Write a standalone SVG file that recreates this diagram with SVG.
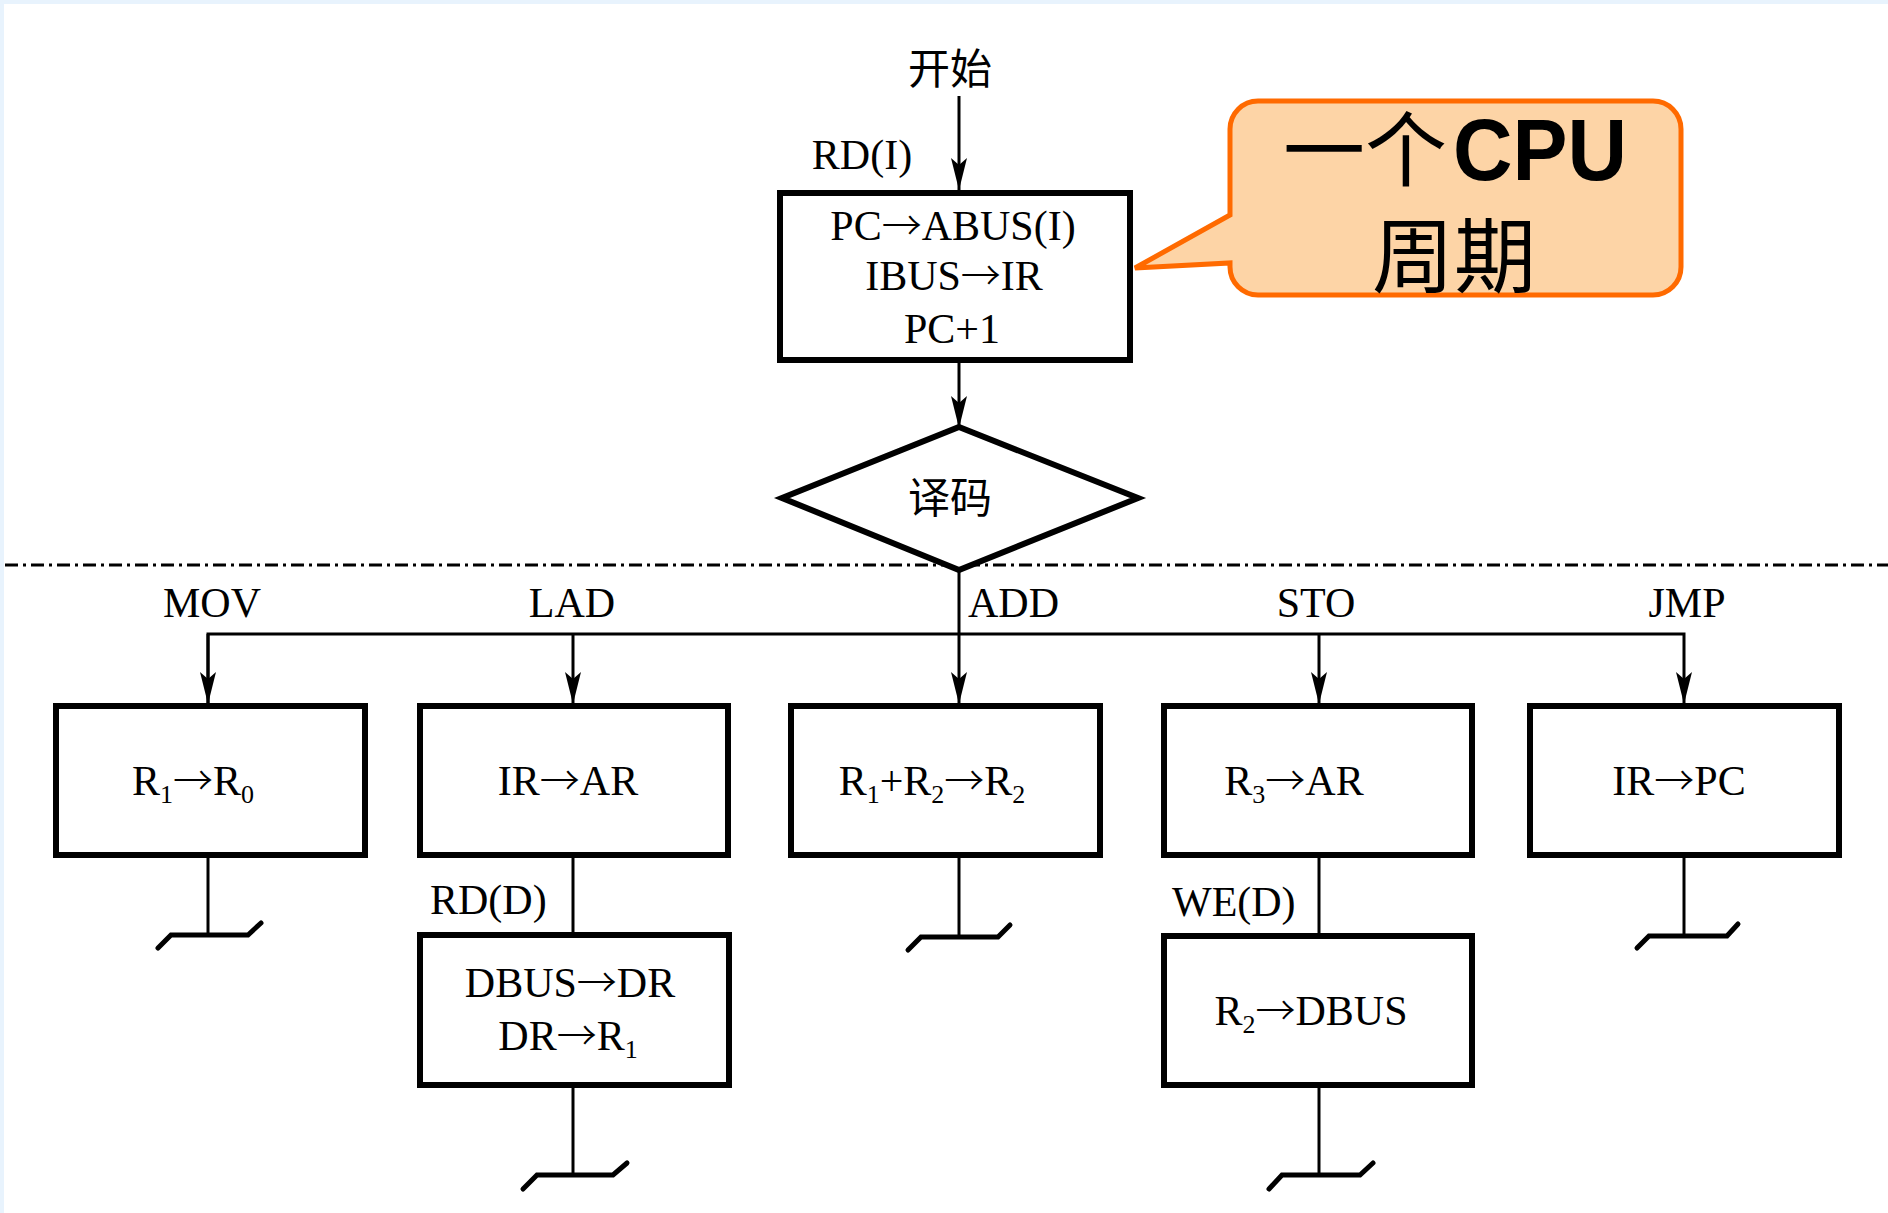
<svg xmlns="http://www.w3.org/2000/svg" width="1888" height="1213" viewBox="0 0 1888 1213">
<style>
.t{font-family:"Liberation Serif","Times New Roman",serif;font-size:42px;fill:#000}
.c{font-family:"Noto Sans CJK SC",sans-serif;fill:#000}
.ar{font-family:"Noto Sans CJK SC",sans-serif;font-weight:300;font-size:40px}
.box{fill:#fff;stroke:#000;stroke-width:6}
.ln{fill:none;stroke:#000;stroke-width:3}
.gnd{fill:none;stroke:#000;stroke-width:5;stroke-linecap:round;stroke-linejoin:miter}
.sub{font-size:26px}
</style>
<defs>
<marker id="ah" markerUnits="userSpaceOnUse" markerWidth="34" markerHeight="18" refX="32" refY="9" viewBox="0 0 34 18" orient="auto">
<path d="M0,1 L32,9 L0,17 L7,9 Z" fill="#000"/>
</marker>
</defs>
<rect x="0" y="0" width="1888" height="1213" fill="#fff"/>
<rect x="0" y="0" width="1888" height="4" fill="#e8f3fd"/>
<rect x="0" y="0" width="4" height="1213" fill="#e8f3fd"/>

<g id="connectors">
<line class="ln" x1="5" y1="565" x2="1888" y2="565" stroke-width="2.5" stroke-dasharray="13 5 3 5"/>
<line class="ln" x1="959" y1="96" x2="959" y2="190" marker-end="url(#ah)"/>
<line class="ln" x1="959" y1="363" x2="959" y2="428" marker-end="url(#ah)"/>
<line class="ln" x1="959" y1="570" x2="959" y2="704" marker-end="url(#ah)"/>
<polyline class="ln" points="208,704 208,634 1684,634 1684,704" marker-end="url(#ah)"/>
<line class="ln" x1="208" y1="634" x2="208" y2="704" marker-end="url(#ah)"/>
<line class="ln" x1="573" y1="634" x2="573" y2="704" marker-end="url(#ah)"/>
<line class="ln" x1="1319" y1="634" x2="1319" y2="704" marker-end="url(#ah)"/>
<line class="ln" x1="208" y1="858" x2="208" y2="935"/>
<line class="ln" x1="573" y1="858" x2="573" y2="933"/>
<line class="ln" x1="573" y1="1088" x2="573" y2="1175"/>
<line class="ln" x1="959" y1="858" x2="959" y2="937"/>
<line class="ln" x1="1319" y1="858" x2="1319" y2="934"/>
<line class="ln" x1="1319" y1="1088" x2="1319" y2="1175"/>
<line class="ln" x1="1684" y1="858" x2="1684" y2="936"/>
<path class="gnd" d="M158,948 L171,935 L248,935 L261,923"/>
<path class="gnd" d="M523,1189 L537,1175 L613,1175 L627,1163"/>
<path class="gnd" d="M908,950 L921,937 L998,937 L1010,925"/>
<path class="gnd" d="M1269,1189 L1282,1175 L1360,1175 L1373,1163"/>
<path class="gnd" d="M1637,948 L1649,936 L1727,936 L1738,924"/>
</g>

<g id="start">
<text class="c" x="950" y="84" font-size="42" text-anchor="middle">开始</text>
<text class="t" x="862" y="169" text-anchor="middle">RD(I)</text>
</g>

<g id="fetch">
<rect class="box" x="780" y="193" width="350" height="167"/>
<text class="t" x="953" y="240" text-anchor="middle">PC<tspan class="ar">→</tspan>ABUS(I)</text>
<text class="t" x="954" y="290" text-anchor="middle">IBUS<tspan class="ar">→</tspan>IR</text>
<text class="t" x="952" y="343" text-anchor="middle">PC+1</text>
</g>

<g id="callout">
<path d="M1258,101 H1653 A28,28 0 0 1 1681,129 V267 A28,28 0 0 1 1653,295 H1258 A28,28 0 0 1 1230,267 V263 L1135,268 L1230,215 V129 A28,28 0 0 1 1258,101 Z" fill="#fdd4a6" stroke="#ff6a00" stroke-width="5" stroke-linejoin="miter"/>
<text class="c" x="1283" y="180" font-size="82">一个</text>
<text x="1453" y="180" font-family="'Liberation Sans',Arial,sans-serif" font-weight="bold" font-size="88" textLength="174" lengthAdjust="spacingAndGlyphs">CPU</text>
<text class="c" x="1454" y="286" font-size="82" text-anchor="middle">周期</text>
</g>

<g id="decode">
<polygon points="959,427 1138,498 959,570 782,498" fill="#fff" stroke="#000" stroke-width="6" stroke-linejoin="miter"/>
<text class="c" x="950" y="513" font-size="42" text-anchor="middle">译码</text>
</g>

<g id="labels">
<text class="t" x="212" y="617" text-anchor="middle">MOV</text>
<text class="t" x="572" y="617" text-anchor="middle">LAD</text>
<text class="t" x="968" y="617">ADD</text>
<text class="t" x="1316" y="617" text-anchor="middle">STO</text>
<text class="t" x="1687" y="617" text-anchor="middle">JMP</text>
</g>

<g id="mov">
<rect class="box" x="56" y="706" width="309" height="149"/>
<text class="t" x="193" y="795" text-anchor="middle">R<tspan class="sub" dy="8">1</tspan><tspan class="ar" dy="-8">→</tspan>R<tspan class="sub" dy="8">0</tspan></text>
</g>

<g id="lad">
<rect class="box" x="420" y="706" width="308" height="149"/>
<text class="t" x="568" y="795" text-anchor="middle">IR<tspan class="ar">→</tspan>AR</text>
</g>

<g id="lad2">
<text class="t" x="430" y="914">RD(D)</text>
<rect class="box" x="420" y="935" width="309" height="150"/>
<text class="t" x="570" y="997" text-anchor="middle">DBUS<tspan class="ar">→</tspan>DR</text>
<text class="t" x="568" y="1050" text-anchor="middle">DR<tspan class="ar">→</tspan>R<tspan class="sub" dy="8">1</tspan></text>
</g>

<g id="add">
<rect class="box" x="791" y="706" width="309" height="149"/>
<text class="t" x="932" y="795" text-anchor="middle">R<tspan class="sub" dy="8">1</tspan><tspan dy="-8">+R</tspan><tspan class="sub" dy="8">2</tspan><tspan class="ar" dy="-8">→</tspan>R<tspan class="sub" dy="8">2</tspan></text>
</g>

<g id="sto">
<rect class="box" x="1164" y="706" width="308" height="149"/>
<text class="t" x="1294" y="795" text-anchor="middle">R<tspan class="sub" dy="8">3</tspan><tspan class="ar" dy="-8">→</tspan>AR</text>
</g>

<g id="sto2">
<text class="t" x="1172" y="916">WE(D)</text>
<rect class="box" x="1164" y="936" width="308" height="149"/>
<text class="t" x="1311" y="1025" text-anchor="middle">R<tspan class="sub" dy="8">2</tspan><tspan class="ar" dy="-8">→</tspan>DBUS</text>
</g>

<g id="jmp">
<rect class="box" x="1530" y="706" width="309" height="149"/>
<text class="t" x="1679" y="795" text-anchor="middle">IR<tspan class="ar">→</tspan>PC</text>
</g>
</svg>
